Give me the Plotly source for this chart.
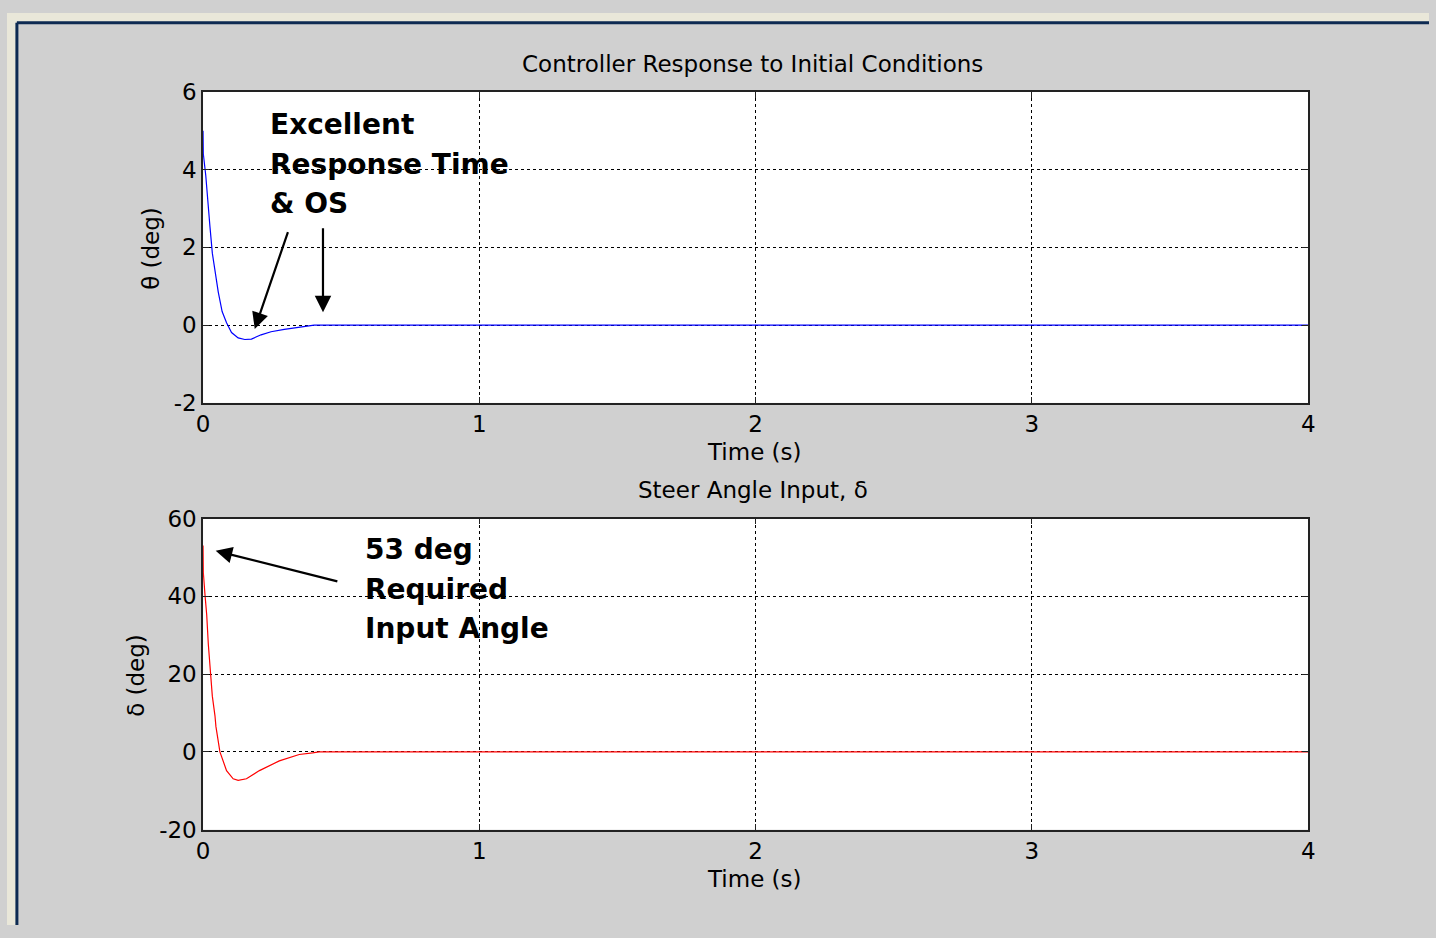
import plotly.graph_objects as go

W, H = 1436, 938

# ---- data ----
t_theta = [0.0, 0.001, 0.0096, 0.0167, 0.0251, 0.0335, 0.043, 0.055, 0.069, 0.085,
           0.103, 0.127, 0.151, 0.175, 0.210, 0.246, 0.294, 0.354, 0.402, 4.0]
theta = [5.0, 4.39, 3.86, 3.18, 2.52, 1.85, 1.35, 0.85, 0.35, 0.06,
         -0.19, -0.33, -0.37, -0.36, -0.25, -0.17, -0.11, -0.04, 0.0, 0.0]

t_delta = [0.0, 0.001, 0.0072, 0.0132, 0.019, 0.0251, 0.0335, 0.043, 0.0466, 0.061,
           0.085, 0.109, 0.127, 0.157, 0.204, 0.276, 0.348, 0.396, 0.420, 4.0]
delta = [53.1, 46.0, 40.2, 35.2, 27.7, 21.0, 14.35, 9.35, 6.5, 0.0,
         -4.8, -6.9, -7.3, -6.9, -4.8, -2.3, -0.65, -0.25, 0.0, 0.0]

x_ticks = [0, 1, 2, 3, 4]
x_ticktext = ["0", "1", "2", "3", "4"]
theta_ticks = [-2, 0, 2, 4, 6]
theta_ticktext = ["-2", "0", "2", "4", "6"]
delta_ticks = [-20, 0, 20, 40, 60]
delta_ticktext = ["-20", "0", "20", "40", "60"]

title_top = "Controller Response to Initial Conditions"
title_bottom = "Steer Angle Input, δ"
xlabel = "Time (s)"
ylabel_top = "θ (deg)"
ylabel_bottom = "δ (deg)"
note_top = ["Excellent", "Response Time", "& OS"]
note_bottom = ["53 deg", "Required", "Input Angle"]

FONT = "DejaVu Sans"

def px(x):
    return x / W

def py(y):
    return (H - y) / H

fig = go.Figure()
fig.add_trace(go.Scatter(x=t_theta, y=theta, mode="lines",
                         line=dict(color="#0000ff", width=1.2),
                         xaxis="x", yaxis="y", showlegend=False))
fig.add_trace(go.Scatter(x=t_delta, y=delta, mode="lines",
                         line=dict(color="#ff0000", width=1.2),
                         xaxis="x2", yaxis="y2", showlegend=False))

axis_common = dict(
    showgrid=True, gridcolor="black", gridwidth=1, griddash="3px,3px",
    zeroline=False, showline=True, linecolor="#222", linewidth=1.5,
    mirror="ticks", ticks="inside", ticklen=6, tickcolor="#222",
    tickfont=dict(family=FONT, size=23, color="black"),
)

fig.update_layout(
    width=W, height=H,
    margin=dict(l=0, r=0, t=0, b=0),
    paper_bgcolor="#d0d0d0", plot_bgcolor="white",
    xaxis=dict(domain=[px(198), px(1314)], range=[0, 4], tickvals=x_ticks,
               ticktext=x_ticktext, anchor="y", **axis_common),
    yaxis=dict(domain=[py(401), py(81)], range=[-2, 6], tickvals=theta_ticks,
               ticktext=theta_ticktext, anchor="x", **axis_common),
    xaxis2=dict(domain=[px(198), px(1314)], range=[0, 4], tickvals=x_ticks,
                ticktext=x_ticktext, anchor="y2", **axis_common),
    yaxis2=dict(domain=[py(840), py(520)], range=[-20, 60], tickvals=delta_ticks,
                ticktext=delta_ticktext, anchor="x2", **axis_common),
)

# background frame: slide backdrop + navy border
shapes = [
    dict(type="rect", xref="paper", yref="paper", x0=0, x1=px(9), y0=0, y1=1,
         fillcolor="#e9e7d9", line_width=0, layer="below"),
    dict(type="rect", xref="paper", yref="paper", x0=0, x1=1, y0=py(9), y1=1,
         fillcolor="#e9e7d9", line_width=0, layer="below"),
    dict(type="line", xref="paper", yref="paper", x0=px(10), x1=px(10), y0=0, y1=py(10),
         line=dict(color="#0d2a52", width=3), layer="below"),
    dict(type="line", xref="paper", yref="paper", x0=px(10), x1=1, y0=py(10), y1=py(10),
         line=dict(color="#0d2a52", width=3), layer="below"),
]
fig.update_layout(shapes=shapes)

ann = []
def label(text, x, y, size=23, angle=0, bold=False, xanchor="center"):
    ann.append(dict(text=("<b>%s</b>" % text) if bold else text,
                    x=px(x), y=py(y), xref="paper", yref="paper",
                    xanchor=xanchor, yanchor="middle", showarrow=False,
                    textangle=angle,
                    font=dict(family=FONT, size=size, color="black")))

label(title_top, 753, 52)
label(xlabel, 755, 452)
label(title_bottom, 753, 491)
label(xlabel, 755, 891)
label(ylabel_top, 146, 242, angle=-90)
label(ylabel_bottom, 130, 681, angle=-90)

for i, s in enumerate(note_top):
    label(s, 264, 115 + 40.7 * i, size=28, bold=True, xanchor="left")
for i, s in enumerate(note_bottom):
    label(s, 359, 552 + 40.5 * i, size=28, bold=True, xanchor="left")

# arrows (tip, tail) in data coordinates
arrows = [
    ("x", "y", 0.187, -0.1, 0.309, 2.43),
    ("x", "y", 0.434, 0.33, 0.434, 2.53),
    ("x2", "y2", 0.0456, 51.7, 0.4915, 43.75),
]
for xr, yr, x, y, axv, ayv in arrows:
    ann.append(dict(x=x, y=y, ax=axv, ay=ayv, xref=xr, yref=yr, axref=xr, ayref=yr,
                    text="", showarrow=True, arrowhead=2, arrowsize=1.5,
                    arrowwidth=2.2, arrowcolor="black"))

fig.update_layout(annotations=ann)

fig.write_html("out.html", config=dict(displayModeBar=False),
               post_script="document.body.style.margin='0';"
                           "document.body.style.padding='0';"
                           "document.documentElement.style.overflow='hidden';")
